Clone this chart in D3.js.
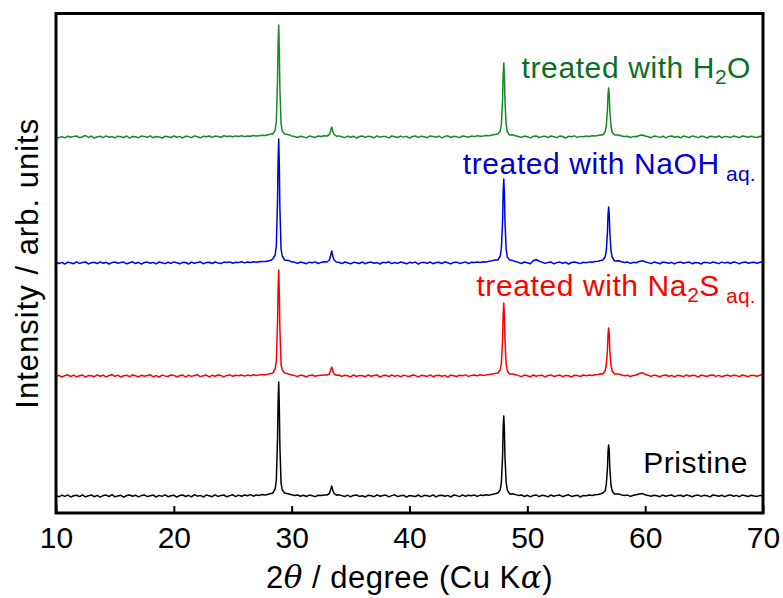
<!DOCTYPE html>
<html>
<head>
<meta charset="utf-8">
<script src="https://cdn.jsdelivr.net/npm/d3@7"></script>
<style>
  body { margin: 0; background: #fff; }
  svg { display: block; font-family: "Liberation Sans", Arial, Helvetica, sans-serif; }
</style>
</head>
<body>
<script>
// 2theta grid (deg), coarse on the background and finer across the reflections
const angle = [
  10,10.25,10.5,10.75,11,11.25,11.5,11.75,12,12.25,12.5,12.75,13,13.25,13.5,13.75,14,14.25,14.5,14.75,
  15,15.25,15.5,15.75,16,16.25,16.5,16.75,17,17.25,17.5,17.75,18,18.25,18.5,18.75,19,19.25,19.5,19.75,
  20,20.25,20.5,20.75,21,21.25,21.5,21.75,22,22.25,22.5,22.75,23,23.25,23.5,23.75,24,24.25,24.5,24.75,
  25,25.25,25.5,25.75,26,26.25,26.5,26.75,27,27.25,27.5,27.75,28,28.25,
  28.4,28.6,28.7,28.8,28.85,28.9,28.95,29,29.1,29.2,29.4,
  29.75,30,30.25,30.5,30.75,31,31.25,31.5,31.75,32,32.25,32.5,32.75,
  33,33.2,33.3,33.4,33.5,33.6,33.8,
  34,34.25,34.5,34.75,35,35.25,35.5,35.75,36,36.25,36.5,36.75,37,37.25,37.5,37.75,38,38.25,38.5,38.75,
  39,39.25,39.5,39.75,40,40.25,40.5,40.75,41,41.25,41.5,41.75,42,42.25,42.5,42.75,43,43.25,43.5,43.75,
  44,44.25,44.5,44.75,45,45.25,45.5,45.75,46,46.25,46.5,46.75,47,47.25,
  47.5,47.7,47.8,47.9,47.95,48,48.05,48.1,48.2,48.3,48.5,
  48.75,49,49.25,49.5,49.75,50,50.25,50.5,50.75,51,51.25,51.5,51.75,52,52.25,52.5,52.75,53,53.25,53.5,
  53.75,54,54.25,54.5,54.75,55,55.25,55.5,55.75,56,56.25,
  56.4,56.6,56.7,56.8,56.85,56.9,56.95,57,57.1,57.2,57.4,
  57.75,58,58.25,58.5,58.75,59,59.25,59.5,59.75,60,60.25,60.5,60.75,61,61.25,61.5,61.75,62,62.25,62.5,
  62.75,63,63.25,63.5,63.75,64,64.25,64.5,64.75,65,65.25,65.5,65.75,66,66.25,66.5,66.75,67,67.25,67.5,
  67.75,68,68.25,68.5,68.75,69,69.25,69.5,69.75,70
];

// intensities (arb. units), above its own background
const pristine = [
  0.5,-0.8,0.9,-0.4,1.1,-1.0,0.3,0.8,-0.6,1.2,-0.9,0.2,1.0,-0.7,0.6,-1.1,0.4,0.9,-0.5,1.3,
  -0.8,0.1,0.7,-1.2,0.5,1.0,-0.3,0.8,-0.9,0.4,1.1,-0.6,0.2,0.9,-1.0,0.6,-0.4,1.2,-0.7,0.3,
  0.8,-1.1,0.5,1.0,-0.5,0.7,-0.9,1.3,-0.2,0.6,-1.0,0.9,0.2,-0.7,1.1,-0.4,0.5,1.0,-0.8,0.4,
  1.2,-0.6,0.9,-0.3,1.0,0.2,1.4,-0.2,1.1,0.6,1.5,0.9,1.8,2.4,
  3,7,16,57,95,114,90,50,13,6,3,
  2.0,1.2,0.6,1.0,-0.3,0.8,-0.5,0.9,0.2,-0.6,0.7,0.4,1.0,
  1,2.5,6,10,5.5,2.5,0.8,
  1.2,0.4,-0.5,0.9,-0.8,0.6,1.0,-0.4,0.3,-1.0,0.8,0.2,-0.7,1.1,-0.3,0.5,0.9,-0.9,0.4,1.2,
  -0.6,0.3,0.8,-1.1,0.6,0.1,-0.5,1.0,-0.8,0.7,0.3,-0.4,1.1,-0.9,0.5,0.8,-0.2,0.6,-1.0,0.9,
  0.4,-0.6,1.2,-0.3,0.7,0.2,1.0,-0.4,0.9,0.5,1.3,0.8,1.6,2.3,
  3,6,14,40,68,80,68,40,14,6,2,
  2.2,1.4,0.6,1.0,-0.5,0.8,-0.8,0.4,1.1,-0.6,0.7,0.2,-0.9,1.0,-0.3,0.6,0.9,-0.7,0.5,1.2,
  -0.4,0.3,0.8,-1.0,0.6,0.2,1.0,0.5,1.2,1.5,2.3,
  3,5,11,28,45,51,45,28,11,5,2,
  2.0,1.1,0.5,0.9,-0.4,0.7,1.2,2.0,2.4,1.3,0.6,-0.3,0.8,0.2,-0.7,0.9,-0.2,0.5,1.0,-0.6,
  0.4,0.8,-0.5,1.1,0.3,-0.8,0.6,0.9,-0.4,0.7,0.2,-0.9,1.0,0.4,-0.3,0.8,-0.6,0.5,1.1,-0.2,
  0.6,-0.7,0.9,0.3,-0.5,0.8,0.1,-0.4,0.6,0.3
];

const na2s = [
  -0.6,0.7,-1.0,0.4,1.2,-0.5,0.9,-0.8,0.3,1.0,-1.2,0.6,0.2,-0.7,1.1,-0.3,0.8,-0.9,0.5,1.3,
  -0.4,0.9,-1.1,0.2,0.7,-0.6,1.0,0.3,-0.9,0.8,-0.2,0.5,1.2,-0.8,0.4,-1.0,0.9,0.1,-0.5,1.1,
  0.6,-0.7,0.3,1.0,-1.1,0.8,-0.4,0.5,1.2,-0.6,0.2,0.9,-0.9,0.7,-0.2,1.0,0.4,-0.8,0.6,1.1,
  -0.3,0.8,0.2,1.0,-0.1,0.9,0.3,1.2,0.5,1.0,1.4,1.1,1.9,2.5,
  3,7,15,53,88,106,84,47,12,6,3,
  2.1,1.0,0.4,-0.5,0.9,0.2,-0.8,0.6,1.0,-0.3,0.5,0.8,1.1,
  1,2,5.5,9,5,2,0.7,
  1.0,-0.4,0.8,0.2,-0.9,1.1,-0.5,0.6,0.3,-0.7,1.0,-0.2,0.5,0.9,-1.0,0.4,0.7,-0.6,1.2,-0.3,
  0.6,-0.8,0.9,0.1,-0.5,1.0,0.4,-0.9,0.7,0.2,-0.4,1.1,-0.7,0.5,0.8,-0.3,0.6,-1.0,0.9,0.3,
  -0.5,0.8,0.2,1.1,-0.4,0.6,1.0,0.3,1.2,0.6,1.0,1.5,1.9,2.4,
  3,6,13,37,62,73,62,37,12,5,2,
  2.0,1.2,0.4,-0.6,0.9,0.2,-0.8,1.0,-0.3,0.6,0.8,-0.9,0.5,1.1,-0.4,0.3,0.9,-0.7,0.6,0.2,
  -1.0,0.8,0.4,-0.5,1.0,0.3,0.9,0.6,1.3,1.6,2.2,
  2,5,11,26,42,48,42,26,11,5,2,
  2.1,1.0,0.3,0.8,-0.5,0.6,1.0,2.5,3.2,1.8,0.7,-0.4,0.9,0.2,-0.8,0.6,1.0,-0.3,0.5,-0.9,
  0.8,0.3,-0.6,1.1,-0.2,0.7,0.4,-1.0,0.9,0.2,-0.5,0.8,1.0,-0.4,0.6,-0.8,0.3,0.9,-0.2,0.7,
  0.4,-0.6,1.0,0.2,-0.7,0.8,0.5,-0.3,0.9,1.2
];

const naoh = [
  0.9,-0.5,0.6,-1.1,0.8,0.3,-0.7,1.2,-0.4,0.5,1.0,-0.9,0.2,0.8,-0.6,1.1,-0.2,0.7,-1.0,0.4,
  1.0,-0.3,0.6,0.9,-0.8,0.3,1.2,-0.5,0.7,-1.1,0.5,0.9,-0.2,0.6,-0.9,1.0,0.2,-0.6,0.8,-0.4,
  1.1,0.3,-0.8,0.7,0.5,-1.0,0.9,-0.3,0.6,1.2,-0.7,0.4,0.8,-0.5,1.0,0.1,-0.6,0.9,0.5,1.1,
  -0.2,0.8,0.4,1.2,0.1,1.0,0.6,1.3,0.8,1.2,1.6,1.4,2.1,2.8,
  4,8,17,62,103,124,98,55,14,7,3,
  2.4,1.3,0.7,-0.4,1.0,0.3,-0.7,0.8,0.2,1.1,-0.5,0.6,1.2,
  1,3,7,12,6.5,3,1,
  0.8,-0.6,1.0,0.3,-0.9,0.7,0.2,-0.5,1.1,-0.8,0.6,0.9,-0.3,0.4,-1.0,0.8,0.2,1.2,-0.6,0.5,
  -0.4,1.0,0.3,-0.8,0.7,0.1,0.9,-1.1,0.6,0.4,-0.3,1.0,-0.7,0.5,0.8,-0.5,1.2,0.2,-0.9,0.6,
  0.9,-0.4,0.3,1.1,-0.6,0.8,0.4,1.0,0.6,1.3,0.9,1.7,2.2,2.9,
  3,7,15,42,71,84,71,42,14,6,3,
  2.4,1.5,0.6,-0.5,1.0,0.2,-0.7,2.2,3.5,1.8,0.9,-0.4,0.6,1.1,-0.8,0.4,0.9,-0.3,0.7,-1.0,
  0.5,1.0,0.2,-0.6,0.8,0.3,1.1,0.7,1.4,1.8,2.6,
  3,6,12,31,49,56,49,31,12,6,2,
  2.3,1.2,0.5,0.9,-0.4,0.8,0.2,1.6,2.2,1.2,0.4,-0.6,0.9,0.3,-0.8,1.0,0.5,-0.4,0.7,-0.9,
  0.6,1.1,-0.3,0.4,0.9,-0.7,0.5,0.2,-1.0,0.8,0.6,-0.4,1.0,0.3,-0.6,0.9,0.1,0.7,-0.5,1.1,
  0.4,-0.8,0.6,1.0,-0.3,0.5,0.8,-0.2,0.7,0.9
];

const h2o = [
  -1.2,-0.6,0.4,-0.9,0.8,-0.3,0.6,1.0,-0.7,0.3,1.5,-0.5,0.9,-1.0,0.2,0.7,-0.6,1.1,-0.2,0.5,
  -0.9,0.8,0.3,-0.5,1.0,-1.1,0.6,0.2,-0.7,0.9,0.4,-0.3,1.2,-0.8,0.5,0.1,-1.0,0.7,0.3,-0.5,
  1.0,-0.2,0.6,-0.9,0.8,0.4,-0.6,1.1,0.2,-0.8,0.7,0.3,1.0,-0.4,0.9,0.5,-0.2,1.2,0.6,0.9,
  0.2,1.1,0.5,1.3,0.4,1.0,0.8,1.4,0.9,1.3,1.7,1.5,2.2,2.9,
  3,7,16,56,93,112,88,49,13,6,3,
  2.3,1.1,0.5,-0.5,0.8,0.1,-0.8,0.9,0.3,-0.4,1.0,0.6,1.2,
  1,2.5,6,10,5.5,2.5,0.8,
  1.1,0.3,-0.6,0.9,-0.2,0.7,-1.0,0.5,1.0,-0.4,0.8,0.2,-0.8,1.2,-0.3,0.6,0.4,-0.9,1.0,0.3,
  -0.5,0.9,-0.1,0.7,-1.1,0.5,1.0,-0.4,0.8,0.2,-0.7,1.1,0.4,-0.3,0.9,-0.9,0.6,1.2,-0.5,0.7,
  0.2,-0.6,1.0,0.5,-0.2,0.9,0.4,1.2,0.7,1.0,1.4,1.2,1.9,2.5,
  3,6,13,37,63,74,63,37,13,5,2,
  2.2,1.3,0.5,-0.4,0.9,0.2,-0.9,0.7,1.1,-0.5,0.4,0.8,-0.7,1.0,0.3,-0.6,0.9,0.5,-1.0,0.7,
  0.2,1.1,-0.4,0.6,0.3,0.9,0.5,1.2,1.0,1.6,2.3,
  2,5,11,27,43,49,43,27,11,5,2,
  2.0,1.0,0.4,0.8,-0.5,0.6,0.2,1.5,2.0,1.0,0.3,-0.7,0.9,0.4,-0.4,0.8,-0.9,0.6,1.0,-0.2,
  0.5,-0.8,0.9,0.3,-0.5,1.1,0.2,-0.6,0.7,0.4,-1.0,0.8,0.5,-0.3,1.0,-0.7,0.6,0.2,-0.4,0.9,
  0.3,-0.6,1.0,0.5,-0.2,0.8,0.1,-0.5,0.7,0.4
];

// vertical stacking offsets of the traces (arb. units)
const offsets = [17, 137, 250, 376];
const xTicks = [10, 20, 30, 40, 50, 60, 70];

const width = 783, height = 598;
const plotL = 56, plotR = 763, plotT = 13.5, plotB = 513;

const series = [
  { values: pristine, offset: offsets[0], line: "#000000", text: "#000000" },
  { values: na2s,     offset: offsets[1], line: "#ff0000", text: "#ff0000" },
  { values: naoh,     offset: offsets[2], line: "#0000e6", text: "#0000d2" },
  { values: h2o,      offset: offsets[3], line: "#148a26", text: "#0b6f21" }
];
series.forEach(s => { if (s.values.length !== angle.length) console.log("length mismatch", s.values.length); });

const x = d3.scaleLinear().domain([10, 70]).range([plotL, plotR]);
const y = d3.scaleLinear().domain([0, plotB - plotT]).range([plotB, plotT]);

const svg = d3.select("body").append("svg")
    .attr("width", width)
    .attr("height", height);

const line = d3.line()
    .x((d, i) => x(angle[i]))
    .y(d => d);

svg.append("g")
  .selectAll("path")
  .data(series)
  .enter().append("path")
    .attr("fill", "none")
    .attr("stroke", d => d.line)
    .attr("stroke-width", 1.5)
    .attr("stroke-linejoin", "round")
    .attr("d", d => line(d.values.map(v => y(v + d.offset))));

// bottom axis, ticks pointing in
const xAxis = d3.axisBottom(x)
    .tickValues(xTicks)
    .tickSizeInner(-7)
    .tickSizeOuter(0)
    .tickPadding(14);

const gx = svg.append("g")
    .attr("transform", "translate(0," + plotB + ")")
    .call(xAxis);
gx.select(".domain").remove();
gx.selectAll(".tick line").attr("stroke", "#000").attr("stroke-width", 2);
gx.selectAll(".tick text")
    .attr("fill", "#000")
    .style("font-size", "30px")
    .style("font-family", "'Liberation Sans', Arial, sans-serif");

// frame
svg.append("rect")
    .attr("x", plotL).attr("y", plotT)
    .attr("width", plotR - plotL).attr("height", plotB - plotT)
    .attr("fill", "none")
    .attr("stroke", "#000")
    .attr("stroke-width", 3);

// axis titles
const xt = svg.append("text")
    .attr("x", (plotL + plotR) / 2)
    .attr("y", 588)
    .attr("text-anchor", "middle")
    .style("font-size", "31px")
    .style("letter-spacing", "0.5px");
xt.append("tspan").text("2");
xt.append("tspan").style("font-family", "'DejaVu Serif', serif").style("font-style", "italic").text("θ");
xt.append("tspan").text(" / degree (Cu K");
xt.append("tspan").style("font-family", "'DejaVu Serif', serif").style("font-style", "italic").text("α");
xt.append("tspan").text(")");

svg.append("text")
    .attr("transform", "translate(38," + (plotT + plotB) / 2 + ") rotate(-90)")
    .attr("text-anchor", "middle")
    .style("font-size", "31px")
    .style("letter-spacing", "1px")
    .text("Intensity / arb. units");

// trace labels
function label(parts, xEnd, yBase, color) {
  const t = svg.append("text")
      .attr("x", xEnd)
      .attr("y", yBase)
      .attr("text-anchor", "end")
      .attr("fill", color)
      .style("font-size", "30px")
      .style("letter-spacing", "0.6px");
  let shift = 0;
  parts.forEach(p => {
    const want = p.sub ? p.sub : 0;
    const ts = t.append("tspan").attr("dy", want - shift).text(p.t);
    if (p.sub) ts.style("font-size", "21px").style("letter-spacing", "0.3px");
    shift = want;
  });
}

label([{ t: "treated with H" }, { t: "2", sub: 6 }, { t: "O" }], 751, 78, series[3].text);
label([{ t: "treated with NaOH" }, { t: " aq.", sub: 7 }], 756, 174, series[2].text);
label([{ t: "treated with Na" }, { t: "2", sub: 6 }, { t: "S" }, { t: " aq.", sub: 7 }], 756, 296, series[1].text);
label([{ t: "Pristine" }], 748, 473, series[0].text);
</script>
</body>
</html>
